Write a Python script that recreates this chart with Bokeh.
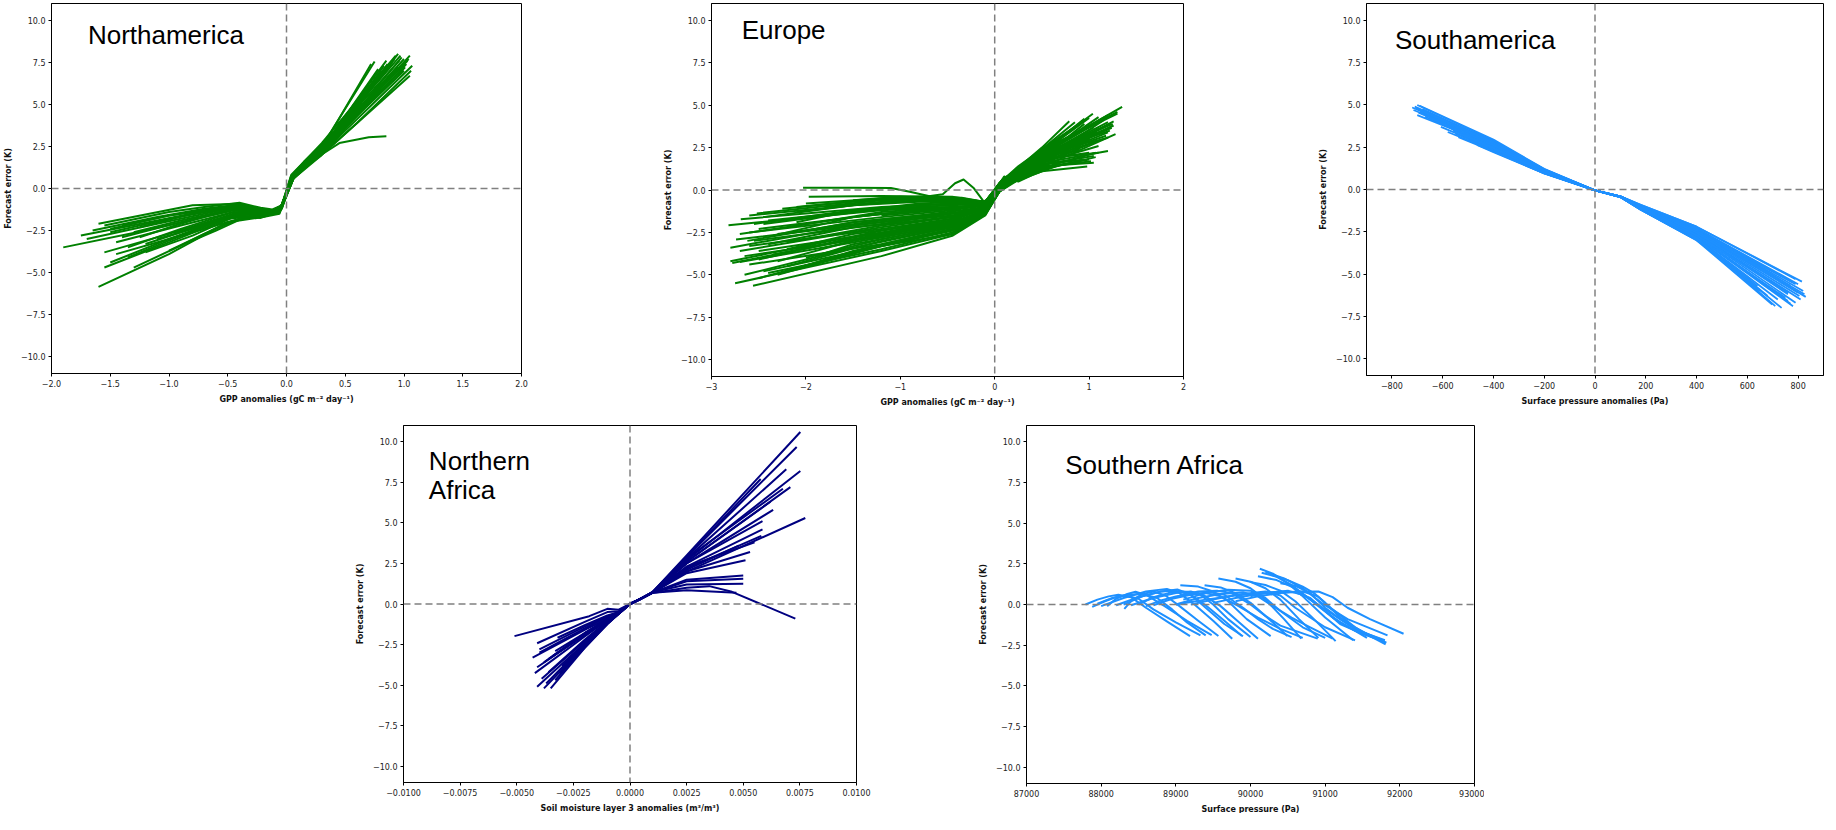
from bokeh.plotting import figure
from bokeh.models import Range1d, FixedTicker, Span, Label, Spacer
from bokeh.layouts import row, column
from bokeh.embed import file_html
from bokeh.resources import INLINE

# ---------------- data ----------------
Y_TICKS = [-10, -7.5, -5, -2.5, 0, 2.5, 5, 7.5, 10]
Y_TICK_LABELS = ["−10.0", "−7.5", "−5.0", "−2.5", "0.0", "2.5", "5.0", "7.5", "10.0"]

NA_X_TICKS = [-2.0, -1.5, -1.0, -0.5, 0.0, 0.5, 1.0, 1.5, 2.0]
NA_X_TICK_LABELS = ["−2.0", "−1.5", "−1.0", "−0.5", "0.0", "0.5", "1.0", "1.5", "2.0"]
EU_X_TICKS = [-3, -2, -1, 0, 1, 2]
EU_X_TICK_LABELS = ["−3", "−2", "−1", "0", "1", "2"]
SAM_X_TICKS = [-800, -600, -400, -200, 0, 200, 400, 600, 800]
SAM_X_TICK_LABELS = ["−800", "−600", "−400", "−200", "0", "200", "400", "600", "800"]
NAF_X_TICKS = [-0.01, -0.0075, -0.005, -0.0025, 0.0, 0.0025, 0.005, 0.0075, 0.01]
NAF_X_TICK_LABELS = ["−0.0100", "−0.0075", "−0.0050", "−0.0025", "0.0000", "0.0025", "0.0050", "0.0075", "0.0100"]
SAF_X_TICKS = [87000, 88000, 89000, 90000, 91000, 92000, 93000]
SAF_X_TICK_LABELS = ["87000", "88000", "89000", "90000", "91000", "92000", "93000"]

# Northamerica: GPP anomaly vs forecast error
NA_CURVES = [
    ([-1.90, -1.20, -0.45, -0.18, -0.06, 0.06, 0.30, 0.72], [-3.50, -2.50, -1.30, -1.50, -1.40, 0.70, 2.40, 7.40]),
    ([-1.75, -1.10, -0.45, -0.18, -0.06, 0.06, 0.30, 0.75], [-2.80, -1.90, -1.00, -1.40, -1.30, 0.80, 2.50, 7.55]),
    ([-1.60, -0.80, -0.40, -0.20, -0.06, 0.06, 0.30, 0.85], [-2.10, -1.00, -0.90, -1.30, -1.30, 0.80, 2.40, 7.60]),
    ([-1.60, -1.00, -0.50, -0.20, -0.06, 0.06, 0.30, 0.95], [-5.85, -3.90, -2.00, -1.60, -1.40, 0.60, 2.20, 8.00]),
    ([-1.55, -1.00, -0.50, -0.20, -0.06, 0.06, 0.30, 1.05], [-4.70, -3.20, -1.80, -1.60, -1.40, 0.70, 2.20, 7.90]),
    ([-1.50, -1.00, -0.45, -0.18, -0.06, 0.06, 0.30, 1.07], [-4.40, -3.00, -1.60, -1.50, -1.40, 0.70, 2.10, 7.30]),
    ([-1.55, -1.00, -0.45, -0.18, -0.06, 0.06, 0.30, 1.05], [-3.80, -2.70, -1.50, -1.60, -1.45, 0.60, 2.00, 6.70]),
    ([-1.50, -1.00, -0.40, -0.18, -0.06, 0.06, 0.30, 0.97], [-2.40, -1.60, -1.00, -1.40, -1.30, 0.80, 2.50, 7.90]),
    ([-1.45, -0.90, -0.45, -0.18, -0.06, 0.06, 0.30, 1.00], [-3.20, -2.20, -1.40, -1.50, -1.40, 0.70, 2.30, 7.70]),
    ([-1.30, -0.90, -0.50, -0.20, -0.06, 0.06, 0.30, 1.02], [-4.70, -3.40, -2.00, -1.70, -1.50, 0.60, 2.10, 7.40]),
    ([-1.35, -0.90, -0.45, -0.18, -0.06, 0.06, 0.30, 0.90], [-3.50, -2.40, -1.40, -1.50, -1.40, 0.70, 2.40, 7.50]),
    ([-1.40, -0.90, -0.40, -0.18, -0.06, 0.06, 0.25, 0.45, 0.70, 0.85], [-2.90, -2.00, -1.10, -1.40, -1.30, 0.70, 1.80, 2.70, 3.05, 3.10]),
    ([-1.30, -0.90, -0.45, -0.18, -0.06, 0.06, 0.30, 0.95], [-2.60, -1.90, -1.20, -1.40, -1.30, 0.80, 2.40, 7.20]),
    ([-1.20, -0.80, -0.45, -0.18, -0.06, 0.06, 0.30, 0.80], [-3.80, -2.80, -1.70, -1.60, -1.40, 0.70, 2.40, 6.90]),
    ([-1.25, -0.80, -0.40, -0.18, -0.06, 0.06, 0.30, 0.90], [-2.30, -1.50, -1.00, -1.30, -1.30, 0.80, 2.20, 6.50]),
    ([-1.50, -1.00, -0.45, -0.18, -0.06, 0.06, 0.30, 1.00], [-2.60, -1.80, -1.10, -1.40, -1.30, 0.70, 2.30, 7.00]),
    ([-1.00, -0.70, -0.40, -0.18, -0.06, 0.06, 0.30, 0.88], [-3.70, -2.70, -1.80, -1.60, -1.40, 0.60, 2.30, 7.30]),
    ([-1.10, -0.70, -0.40, -0.18, -0.06, 0.06, 0.30, 0.92], [-3.00, -2.20, -1.50, -1.50, -1.40, 0.70, 2.40, 7.70]),
    ([-0.80, -0.60, -0.35, -0.18, -0.06, 0.06, 0.30, 0.78], [-3.10, -2.50, -1.70, -1.60, -1.40, 0.60, 2.30, 7.10]),
    ([-1.70, -1.10, -0.50, -0.20, -0.06, 0.06, 0.30, 1.03], [-3.00, -2.10, -1.20, -1.40, -1.30, 0.70, 2.30, 7.60]),
    ([-1.45, -1.00, -0.60, -0.40, -0.22, -0.12, -0.04, 0.04, 0.15, 0.30, 0.60, 0.98], [-3.90, -3.00, -2.20, -1.80, -1.70, -1.50, -1.20, 0.50, 1.30, 2.10, 4.60, 7.80]),
    ([-1.65, -1.10, -0.70, -0.40, -0.22, -0.12, -0.04, 0.04, 0.15, 0.30, 0.60, 1.04], [-2.50, -1.70, -1.20, -0.95, -1.20, -1.30, -1.00, 0.70, 1.50, 2.60, 4.70, 7.70]),
    ([-1.20, -0.90, -0.60, -0.40, -0.22, -0.12, -0.04, 0.04, 0.15, 0.30, 0.60, 0.86], [-3.30, -2.60, -1.90, -1.40, -1.60, -1.40, -1.10, 0.60, 1.40, 2.30, 4.90, 7.40]),
    ([-1.35, -1.00, -0.60, -0.40, -0.22, -0.12, -0.04, 0.04, 0.15, 0.30, 0.60, 1.06], [-4.10, -3.10, -2.00, -1.60, -1.75, -1.50, -1.20, 0.50, 1.20, 2.00, 3.90, 7.00]),
    ([-1.55, -1.00, -0.70, -0.40, -0.22, -0.12, -0.04, 0.04, 0.15, 0.30, 0.60, 0.93], [-2.20, -1.40, -1.10, -0.85, -1.15, -1.25, -1.00, 0.80, 1.60, 2.70, 5.20, 7.90]),
    ([-0.95, -0.75, -0.55, -0.40, -0.22, -0.12, -0.04, 0.04, 0.15, 0.30, 0.60, 0.83], [-2.60, -2.20, -1.80, -1.50, -1.60, -1.45, -1.10, 0.60, 1.40, 2.40, 5.00, 7.30]),
    ([-1.25, -0.95, -0.65, -0.40, -0.22, -0.12, -0.04, 0.04, 0.15, 0.30, 0.60, 1.01], [-2.90, -2.20, -1.60, -1.20, -1.40, -1.35, -1.05, 0.70, 1.50, 2.50, 4.40, 7.20]),
    ([-1.40, -1.00, -0.70, -0.40, -0.22, -0.12, -0.04, 0.04, 0.15, 0.30, 0.60, 0.96], [-2.20, -1.60, -1.30, -1.00, -1.30, -1.30, -1.00, 0.75, 1.60, 2.60, 4.80, 7.60]),
]

# Europe: GPP anomaly vs forecast error
EU_CURVES = [
    ([-2.82, -1.2, -0.45, -0.1, 0.08, 0.5, 1.35], [-2.08, -1.2, -1.0, -0.9, 0.5, 2.2, 4.9]),
    ([-2.75, -1.2, -0.45, -0.1, 0.08, 0.5, 0.98], [-5.5, -3.6, -2.6, -1.4, 0.2, 1.1, 1.38]),
    ([-2.56, -1.2, -0.45, -0.1, 0.08, 0.5, 1.07], [-5.65, -3.9, -2.7, -1.5, 0.2, 1.2, 1.94]),
    ([-2.70, -1.2, -0.45, -0.1, 0.08, 0.5, 1.07], [-4.25, -2.8, -2.0, -1.2, 0.3, 1.3, 2.2]),
    ([-2.69, -1.2, -0.45, -0.1, 0.08, 0.5, 1.20], [-1.72, -1.0, -0.8, -0.8, 0.5, 1.8, 3.1]),
    ([-2.52, -1.2, -0.45, -0.1, 0.08, 0.5, 1.26], [-1.38, -0.6, -0.5, -0.7, 0.6, 2.0, 3.8]),
    ([-2.03, -1.5, -1.1, -0.9, -0.5, -0.2, -0.05, 0.1, 0.5, 1.24], [0.14, 0.13, 0.12, -0.1, -0.6, -0.9, -0.5, 0.7, 1.9, 3.66]),
    ([-1.97, -1.2, -0.45, -0.1, 0.08, 0.5, 1.04], [-0.4, -0.35, -0.4, -0.7, 0.6, 2.3, 4.5]),
    ([-2.74, -1.2, -0.45, -0.1, 0.08, 0.5, 0.79], [-2.92, -1.9, -1.5, -1.0, 0.5, 2.5, 4.05]),
    ([-2.60, -1.2, -0.45, -0.1, 0.08, 0.5, 1.00], [-3.3, -2.3, -1.7, -1.1, 0.4, 2.2, 4.25]),
    ([-2.60, -1.2, -0.45, -0.1, 0.08, 0.5, 1.26], [-4.4, -3.2, -2.3, -1.3, 0.3, 1.9, 4.05]),
    ([-2.50, -1.2, -0.45, -0.1, 0.08, 0.5, 1.10], [-3.6, -2.5, -1.8, -1.1, 0.4, 2.0, 4.3]),
    ([-2.40, -1.2, -0.45, -0.1, 0.08, 0.5, 1.15], [-4.9, -3.5, -2.5, -1.4, 0.2, 1.7, 4.1]),
    ([-2.30, -1.2, -0.45, -0.1, 0.08, 0.5, 0.95], [-5.0, -3.3, -2.4, -1.3, 0.3, 1.9, 3.9]),
    ([-2.50, -1.2, -0.45, -0.1, 0.08, 0.5, 1.20], [-2.3, -1.4, -1.1, -0.9, 0.5, 1.8, 3.4]),
    ([-2.45, -1.2, -0.45, -0.1, 0.08, 0.5, 1.00], [-2.0, -1.1, -0.9, -0.8, 0.5, 1.7, 3.0]),
    ([-2.30, -1.2, -0.45, -0.1, 0.08, 0.5, 0.90], [-2.6, -1.8, -1.4, -1.0, 0.4, 1.6, 2.4]),
    ([-2.20, -1.2, -0.45, -0.1, 0.08, 0.5, 1.10], [-3.1, -2.1, -1.6, -1.1, 0.4, 1.6, 2.6]),
    ([-2.10, -1.2, -0.45, -0.1, 0.08, 0.5, 0.95], [-1.3, -0.7, -0.6, -0.7, 0.6, 1.5, 1.8]),
    ([-2.00, -1.2, -0.45, -0.1, 0.08, 0.5, 0.85], [-0.8, -0.5, -0.5, -0.7, 0.6, 1.3, 1.6]),
    ([-2.60, -1.2, -0.45, -0.1, 0.08, 0.5, 1.05], [-2.5, -1.6, -1.2, -0.9, 0.5, 1.4, 1.6]),
    ([-2.65, -1.2, -0.45, -0.1, 0.08, 0.5, 0.90], [-3.9, -2.7, -1.9, -1.2, 0.4, 2.3, 3.5]),
    ([-2.35, -1.2, -0.45, -0.1, 0.08, 0.5, 1.15], [-3.8, -2.6, -1.9, -1.2, 0.4, 2.1, 3.7]),
    ([-2.20, -1.2, -0.45, -0.1, 0.08, 0.5, 1.20], [-4.5, -3.0, -2.2, -1.3, 0.3, 2.2, 4.4]),
    ([-2.00, -1.2, -0.45, -0.1, 0.08, 0.5, 0.70], [-4.0, -2.9, -2.1, -1.3, 0.3, 1.2, 1.5]),
    ([-1.80, -1.0, -0.55, -0.42, -0.33, -0.22, -0.1, 0.08, 0.5, 1.25], [-1.0, -0.6, -0.25, 0.4, 0.62, 0.1, -0.8, 0.5, 2.1, 3.9]),
    ([-1.50, -1.0, -0.45, -0.1, 0.08, 0.5, 1.20], [-0.6, -0.4, -0.5, -0.8, 0.5, 2.0, 4.0]),
    ([-2.10, -1.2, -0.45, -0.1, 0.08, 0.5, 1.22], [-1.0, -0.5, -0.6, -0.8, 0.5, 2.1, 3.5]),
    ([-2.80, -1.2, -0.45, -0.1, 0.08, 0.5, 1.00], [-4.2, -2.4, -1.7, -1.1, 0.4, 1.8, 2.2]),
    ([-2.45, -1.2, -0.45, -0.1, 0.08, 0.5, 1.05], [-4.8, -3.3, -2.6, -1.4, 0.2, 1.5, 2.0]),
    ([-2.20, -1.2, -0.45, -0.1, 0.08, 0.5, 0.95], [-2.2, -1.3, -1.0, -0.9, 0.5, 2.2, 4.2]),
    ([-2.55, -1.2, -0.45, -0.1, 0.08, 0.5, 1.18], [-3.0, -2.0, -1.4, -1.0, 0.4, 1.9, 3.2]),
    ([-1.80, -1.2, -0.45, -0.1, 0.08, 0.5, 1.05], [-3.4, -2.6, -2.0, -1.2, 0.3, 1.6, 2.8]),
    ([-2.70, -1.2, -0.45, -0.1, 0.08, 0.5, 1.30], [-3.6, -2.2, -1.6, -1.0, 0.5, 2.3, 4.6]),
    ([-2.40, -1.2, -0.45, -0.1, 0.08, 0.5, 0.85], [-1.8, -1.1, -1.0, -0.9, 0.5, 2.4, 4.0]),
    ([-2.78, -1.5, -0.8, -0.35, -0.1, 0.05, 0.25, 0.6, 1.22], [-4.3, -2.9, -2.3, -1.9, -1.3, 0.0, 0.9, 2.1, 3.9]),
    ([-2.62, -1.5, -0.8, -0.35, -0.1, 0.05, 0.25, 0.6, 1.15], [-3.0, -1.9, -1.5, -1.2, -1.0, 0.2, 1.1, 2.4, 4.2]),
    ([-2.50, -1.5, -0.8, -0.35, -0.1, 0.05, 0.25, 0.6, 1.00], [-4.1, -2.8, -2.2, -1.8, -1.3, 0.0, 0.8, 1.8, 2.9]),
    ([-2.35, -1.5, -0.8, -0.35, -0.1, 0.05, 0.25, 0.6, 1.20], [-2.7, -1.6, -1.2, -1.0, -0.9, 0.3, 1.2, 2.5, 4.4]),
    ([-2.20, -1.5, -0.8, -0.35, -0.1, 0.05, 0.25, 0.6, 0.92], [-3.5, -2.6, -2.1, -1.7, -1.2, 0.1, 0.9, 2.0, 2.9]),
    ([-2.10, -1.5, -0.8, -0.35, -0.1, 0.05, 0.25, 0.6, 1.10], [-1.9, -1.2, -0.9, -0.8, -0.8, 0.3, 1.1, 2.2, 3.6]),
    ([-2.65, -1.5, -0.8, -0.35, -0.1, 0.05, 0.25, 0.6, 1.28], [-5.0, -3.4, -2.6, -2.1, -1.4, -0.1, 0.7, 1.6, 3.3]),
    ([-2.40, -1.5, -0.8, -0.35, -0.1, 0.05, 0.25, 0.6, 1.05], [-3.2, -2.2, -1.8, -1.5, -1.1, 0.2, 1.0, 2.3, 3.7]),
    ([-2.00, -1.5, -0.8, -0.35, -0.1, 0.05, 0.25, 0.6, 0.98], [-2.4, -1.9, -1.5, -1.3, -1.0, 0.2, 1.0, 2.0, 3.3]),
    ([-1.70, -1.5, -0.8, -0.35, -0.1, 0.05, 0.25, 0.6, 1.12], [-1.4, -1.25, -0.8, -0.7, -0.8, 0.35, 1.3, 2.6, 4.1]),
    ([-2.55, -1.5, -0.8, -0.35, -0.1, 0.05, 0.25, 0.6, 1.18], [-2.0, -1.2, -0.9, -0.8, -0.85, 0.3, 1.2, 2.4, 4.3]),
    ([-2.30, -1.5, -0.8, -0.35, -0.1, 0.05, 0.25, 0.6, 1.25], [-4.2, -3.0, -2.4, -2.0, -1.35, 0.0, 0.8, 1.9, 3.8]),
    ([-2.80, -1.5, -0.8, -0.35, -0.1, 0.05, 0.25, 0.6, 1.08], [-3.4, -2.1, -1.6, -1.3, -1.05, 0.25, 1.1, 2.2, 3.4]),
    ([-2.45, -1.5, -0.8, -0.35, -0.1, 0.05, 0.25, 0.6, 0.88], [-1.6, -0.9, -0.7, -0.65, -0.75, 0.4, 1.3, 2.7, 3.8]),
    ([-2.15, -1.5, -0.8, -0.35, -0.1, 0.05, 0.25, 0.6, 1.02], [-4.7, -3.6, -2.7, -2.2, -1.45, -0.1, 0.6, 1.4, 1.7]),
    ([-2.70, -1.5, -0.8, -0.35, -0.1, 0.05, 0.25, 0.6, 1.15], [-2.6, -1.6, -1.2, -1.0, -0.9, 0.3, 1.15, 2.3, 3.0]),
    ([-2.50, -1.5, -0.8, -0.35, -0.1, 0.05, 0.25, 0.6, 1.20], [-5.2, -3.7, -2.8, -2.2, -1.45, -0.1, 0.7, 1.7, 2.3]),
    ([-1.90, -1.5, -0.8, -0.35, -0.1, 0.05, 0.25, 0.6, 1.10], [-3.9, -3.2, -2.5, -2.0, -1.35, 0.0, 0.8, 1.9, 2.2]),
    ([-2.60, -1.5, -0.8, -0.35, -0.1, 0.05, 0.25, 0.6, 1.30], [-1.5, -0.9, -0.6, -0.6, -0.7, 0.4, 1.3, 2.6, 4.5]),
    ([-2.25, -1.5, -0.8, -0.35, -0.1, 0.05, 0.25, 0.6, 0.95], [-1.1, -0.7, -0.4, -0.45, -0.7, 0.4, 1.4, 2.8, 4.1]),
    ([-1.20, -0.6, -0.2, -0.05, 0.1, 0.25, 0.4, 0.7, 1.00], [-1.5, -1.2, -1.0, -0.5, 0.8, 0.5, 0.9, 1.5, 1.8]),
]

# Southamerica: surface pressure anomaly vs forecast error
SAM_CURVES = [
    ([-710, -400, -200, 0, 100, 180, 400, 790], [4.90, 2.85, 1.20, -0.05, -0.40, -0.90, -2.20, -5.30]),
    ([-700, -400, -200, 0, 100, 180, 400, 800], [5.00, 2.90, 1.20, -0.05, -0.40, -0.95, -2.30, -5.60]),
    ([-680, -400, -200, 0, 100, 180, 400, 820], [4.75, 2.80, 1.15, -0.05, -0.40, -1.00, -2.40, -6.00]),
    ([-690, -400, -200, 0, 100, 180, 400, 830], [4.60, 2.70, 1.10, -0.05, -0.42, -1.00, -2.50, -6.35]),
    ([-700, -400, -200, 0, 100, 180, 400, 810], [4.40, 2.60, 1.10, -0.05, -0.42, -1.05, -2.60, -6.50]),
    ([-640, -400, -200, 0, 100, 180, 400, 780], [4.20, 2.60, 1.05, -0.05, -0.43, -1.10, -2.80, -6.90]),
    ([-607, -400, -200, 0, 100, 180, 400, 735], [3.70, 2.40, 1.00, -0.05, -0.44, -1.15, -2.90, -7.00]),
    ([-538, -400, -200, 0, 100, 180, 400, 698], [3.10, 2.25, 0.95, -0.05, -0.45, -1.20, -3.00, -6.80]),
    ([-465, -400, -200, 0, 100, 180, 400, 613], [2.63, 2.20, 0.95, -0.05, -0.45, -1.20, -3.00, -5.30]),
    ([-600, -400, -200, 0, 100, 180, 400, 640], [3.90, 2.55, 1.05, -0.05, -0.43, -1.10, -2.90, -5.70]),
    ([-650, -400, -200, 0, 100, 180, 400, 760], [4.50, 2.75, 1.15, -0.05, -0.41, -1.00, -2.60, -6.20]),
    ([-560, -400, -200, 0, 100, 180, 400, 700], [3.60, 2.50, 1.05, -0.05, -0.42, -1.05, -2.70, -6.00]),
    ([-500, -400, -200, 0, 100, 180, 400, 790], [3.00, 2.35, 1.00, -0.05, -0.42, -1.00, -2.45, -5.60]),
    ([-720, -400, -200, 0, 100, 180, 400, 780], [4.85, 2.80, 1.15, -0.05, -0.41, -0.98, -2.35, -5.50]),
    ([-660, -400, -200, 0, 100, 180, 400, 800], [4.40, 2.65, 1.10, -0.05, -0.42, -1.02, -2.50, -6.10]),
    ([-620, -400, -200, 0, 100, 180, 400, 760], [4.00, 2.45, 1.00, -0.05, -0.44, -1.10, -2.75, -6.60]),
    ([-580, -400, -200, 0, 100, 180, 400, 720], [3.40, 2.30, 0.95, -0.05, -0.45, -1.15, -2.85, -6.50]),
    ([-690, -400, -200, 0, 100, 180, 400, 815], [4.95, 2.95, 1.22, -0.05, -0.40, -0.90, -2.20, -5.45]),
    ([-705, -400, -200, 0, 100, 180, 400, 770], [4.80, 2.80, 1.18, -0.05, -0.40, -0.95, -2.30, -5.70]),
    ([-670, -400, -200, 0, 100, 180, 400, 750], [4.30, 2.55, 1.05, -0.05, -0.43, -1.08, -2.80, -6.40]),
    ([-630, -400, -200, 0, 100, 180, 400, 790], [4.10, 2.50, 1.05, -0.05, -0.42, -1.05, -2.65, -6.70]),
    ([-590, -400, -200, 0, 100, 180, 400, 680], [3.80, 2.45, 1.00, -0.05, -0.44, -1.12, -2.85, -6.30]),
    ([-550, -400, -200, 0, 100, 180, 400, 650], [3.30, 2.35, 1.00, -0.05, -0.45, -1.18, -2.95, -6.00]),
    ([-520, -400, -200, 0, 100, 180, 400, 620], [3.20, 2.40, 1.02, -0.05, -0.44, -1.15, -2.90, -5.60]),
    ([-480, -400, -200, 0, 100, 180, 400, 600], [2.80, 2.25, 0.97, -0.05, -0.45, -1.20, -2.95, -5.20]),
    ([-715, -400, -200, 0, 100, 180, 400, 825], [4.70, 2.75, 1.15, -0.05, -0.41, -1.00, -2.45, -6.20]),
    ([-695, -400, -200, 0, 100, 180, 400, 805], [4.55, 2.65, 1.10, -0.05, -0.42, -1.02, -2.55, -6.30]),
    ([-650, -400, -200, 0, 100, 180, 400, 770], [4.25, 2.60, 1.08, -0.05, -0.43, -1.06, -2.70, -6.75]),
    ([-610, -400, -200, 0, 100, 180, 400, 710], [3.95, 2.50, 1.03, -0.05, -0.44, -1.12, -2.85, -6.90]),
    ([-560, -400, -200, 0, 100, 180, 400, 760], [3.50, 2.45, 1.02, -0.05, -0.43, -1.08, -2.70, -6.10]),
]

# Northern Africa: soil moisture layer 3 anomaly vs forecast error
NAF_CURVES = [
    ([-0.0051, -0.0018, -0.0010, -0.0005, 0, 0.0005, 0.0010, 0.0025, 0.00752], [-1.98, -0.75, -0.30, -0.35, 0, 0.35, 0.75, 3.0, 10.6]),
    ([-0.0041, -0.0020, -0.0010, -0.0005, 0, 0.0005, 0.0010, 0.0025, 0.00736], [-2.42, -1.10, -0.50, -0.45, 0, 0.35, 0.75, 2.9, 9.68]),
    ([-0.0032, -0.0020, -0.0010, -0.0005, 0, 0.0005, 0.0010, 0.0025, 0.00690], [-2.08, -1.30, -0.70, -0.50, 0, 0.35, 0.72, 2.8, 8.3]),
    ([-0.0043, -0.0020, -0.0010, -0.0005, 0, 0.0005, 0.0010, 0.0025, 0.00752], [-3.30, -1.60, -0.90, -0.55, 0, 0.35, 0.72, 2.7, 8.2]),
    ([-0.0042, -0.0020, -0.0010, -0.0005, 0, 0.0005, 0.0010, 0.0025, 0.00675], [-4.26, -2.00, -1.00, -0.55, 0, 0.35, 0.72, 2.8, 7.1]),
    ([-0.0041, -0.0020, -0.0010, -0.0005, 0, 0.0005, 0.0010, 0.0025, 0.00708], [-5.10, -2.40, -1.10, -0.60, 0, 0.33, 0.70, 2.6, 7.2]),
    ([-0.0038, -0.0020, -0.0010, -0.0005, 0, 0.0005, 0.0010, 0.0025, 0.00632], [-5.20, -2.60, -1.20, -0.60, 0, 0.33, 0.70, 2.5, 5.8]),
    ([-0.0035, -0.0020, -0.0010, -0.0005, 0, 0.0005, 0.0010, 0.0025, 0.00774], [-5.20, -2.70, -1.20, -0.60, 0, 0.33, 0.70, 2.0, 5.3]),
    ([-0.0040, -0.0020, -0.0010, -0.0005, 0, 0.0005, 0.0010, 0.0025, 0.00585], [-2.80, -1.40, -0.75, -0.50, 0, 0.35, 0.72, 2.5, 5.1]),
    ([-0.0033, -0.0020, -0.0010, -0.0005, 0, 0.0005, 0.0010, 0.0025, 0.00585], [-4.70, -2.60, -1.20, -0.60, 0, 0.33, 0.70, 2.3, 4.6]),
    ([-0.0038, -0.0020, -0.0010, -0.0005, 0, 0.0005, 0.0010, 0.0025, 0.00530], [-3.60, -1.80, -0.95, -0.55, 0, 0.35, 0.72, 2.0, 3.2]),
    ([-0.0036, -0.0020, -0.0010, -0.0005, 0, 0.0005, 0.0010, 0.0025, 0.00510], [-4.20, -2.20, -1.05, -0.55, 0, 0.34, 0.70, 1.9, 2.7]),
    ([-0.0039, -0.0020, -0.0010, -0.0005, 0, 0.0005, 0.0010, 0.0025, 0.00500], [-4.60, -2.30, -1.10, -0.60, 0, 0.34, 0.70, 1.5, 1.75]),
    ([-0.0030, -0.0020, -0.0010, -0.0005, 0, 0.0005, 0.0010, 0.0025, 0.00500], [-3.80, -2.50, -1.20, -0.60, 0, 0.33, 0.70, 1.4, 1.55]),
    ([-0.0034, -0.0020, -0.0010, -0.0005, 0, 0.0005, 0.0010, 0.0025, 0.00500], [-3.20, -1.90, -1.00, -0.55, 0, 0.35, 0.72, 1.2, 1.25]),
    ([-0.0040, -0.0020, -0.0010, -0.0005, 0, 0.0005, 0.0010, 0.0025, 0.00470], [-3.00, -1.50, -0.80, -0.50, 0, 0.36, 0.70, 0.85, 0.7]),
    ([-0.0037, -0.0020, -0.0010, -0.0005, 0, 0.0005, 0.0010, 0.0025, 0.0035, 0.0045, 0.0073], [-4.90, -2.50, -1.20, -0.60, 0, 0.33, 0.68, 1.0, 1.1, 0.75, -0.9]),
    ([-0.0028, -0.0020, -0.0010, -0.0005, 0, 0.0005, 0.0010, 0.0025, 0.00577], [-3.60, -2.50, -1.20, -0.60, 0, 0.34, 0.72, 2.9, 7.7]),
    ([-0.0041, -0.0020, -0.0010, -0.0005, 0, 0.0005, 0.0010, 0.0025, 0.00550], [-3.90, -1.90, -0.95, -0.55, 0, 0.35, 0.72, 2.3, 3.8]),
    ([-0.0033, -0.0020, -0.0010, -0.0005, 0, 0.0005, 0.0010, 0.0025, 0.00580], [-2.90, -1.80, -0.95, -0.55, 0, 0.35, 0.72, 2.2, 4.2]),
    ([-0.0036, -0.0020, -0.0010, -0.0005, 0, 0.0005, 0.0010, 0.0025, 0.00620], [-3.40, -1.80, -0.95, -0.55, 0, 0.35, 0.72, 2.6, 6.3]),
    ([-0.0031, -0.0020, -0.0010, -0.0005, 0, 0.0005, 0.0010, 0.0025, 0.00480], [-4.30, -2.70, -1.25, -0.60, 0, 0.33, 0.70, 2.1, 3.6]),
]

# Southern Africa: surface pressure vs forecast error
SAF_CURVES = [
    ([87790, 87950, 88100, 88230, 88400, 88600, 88900, 89190], [0.00, 0.30, 0.50, 0.60, 0.45, -0.20, -1.10, -1.94]),
    ([87880, 88050, 88200, 88320, 88500, 88700, 89000, 89330], [-0.15, 0.20, 0.45, 0.55, 0.35, -0.30, -1.10, -1.90]),
    ([88080, 88200, 88350, 88460, 88620, 88850, 89150, 89480], [-0.10, 0.35, 0.65, 0.78, 0.55, -0.10, -1.00, -1.88]),
    ([88310, 88420, 88560, 88700, 88860, 89050, 89300, 89570], [-0.27, 0.30, 0.65, 0.80, 0.55, -0.10, -1.00, -1.94]),
    ([88000, 88300, 88600, 88880, 89050, 89250, 89500, 89755], [-0.10, 0.40, 0.80, 0.96, 0.70, 0.00, -1.00, -2.10]),
    ([88200, 88500, 88800, 89020, 89180, 89400, 89650, 89885], [-0.05, 0.45, 0.80, 0.92, 0.65, -0.05, -1.00, -1.94]),
    ([88400, 88700, 89000, 89200, 89380, 89600, 89850, 90100], [-0.05, 0.40, 0.70, 0.80, 0.55, -0.10, -1.10, -2.10]),
    ([89060, 89300, 89500, 89700, 89950, 90270], [1.19, 1.10, 0.80, 0.20, -0.90, -1.94]),
    ([89385, 89600, 89800, 90000, 90250, 90495], [1.19, 1.05, 0.70, 0.10, -0.90, -1.94]),
    ([89570, 89800, 90000, 90200, 90450, 90680], [1.60, 1.40, 1.00, 0.30, -0.90, -2.10]),
    ([89800, 90000, 90200, 90400, 90650, 90910], [1.60, 1.40, 1.00, 0.30, -0.90, -2.05]),
    ([89990, 90200, 90400, 90600, 90850, 91140], [1.39, 1.20, 0.85, 0.20, -0.90, -2.25]),
    ([90125, 90300, 90500, 90700, 91000, 91375], [2.20, 1.90, 1.30, 0.50, -0.80, -2.20]),
    ([90150, 90350, 90550, 90800, 91100, 91560], [1.95, 1.70, 1.20, 0.30, -0.80, -2.05]),
    ([90100, 90350, 90600, 90900, 91300, 91810], [1.74, 1.50, 1.00, 0.00, -1.20, -2.45]),
    ([90200, 90450, 90700, 90950, 91300, 91835], [2.00, 1.60, 1.00, 0.10, -0.90, -1.90]),
    ([89000, 89400, 89800, 90200, 90600, 90910, 91100, 91300, 91600, 92050], [0.00, 0.30, 0.55, 0.70, 0.78, 0.80, 0.45, -0.20, -0.90, -1.80]),
    ([88600, 88800, 89000, 89200, 89400, 89600, 89800, 90100, 90400, 90700], [-0.10, 0.25, 0.50, 0.65, 0.70, 0.50, 0.00, -0.80, -1.50, -2.05]),
    ([89000, 89300, 89600, 89900, 90100, 90300, 90550, 90800, 91100], [0.00, 0.40, 0.65, 0.75, 0.50, -0.10, -0.80, -1.40, -2.10]),
    ([89200, 89500, 89800, 90200, 90400, 90600, 90800, 91000, 91400], [0.00, 0.30, 0.60, 0.80, 0.55, -0.20, -0.80, -1.40, -2.20]),
    ([89500, 89800, 90100, 90500, 90700, 90900, 91200, 91500, 91800], [0.10, 0.40, 0.65, 0.85, 0.60, 0.00, -1.20, -1.80, -2.30]),
    ([89800, 90100, 90400, 90700, 90900, 91100, 91400, 91600, 91820], [0.20, 0.50, 0.70, 0.80, 0.50, -0.30, -1.40, -1.90, -2.35]),
    ([88700, 88950, 89200, 89450, 89650, 89900, 90100, 90300, 90550], [-0.05, 0.35, 0.60, 0.75, 0.60, -0.20, -0.90, -1.50, -2.00]),
    ([88900, 89100, 89300, 89550, 89750, 90000, 90200, 90400, 90900], [0.30, 0.60, 0.80, 0.85, 0.70, 0.00, -0.70, -1.30, -2.10]),
    ([88500, 88700, 88900, 89100, 89300, 89500, 89700, 90000], [0.00, 0.45, 0.70, 0.80, 0.70, 0.00, -0.90, -2.00]),
    ([90400, 90600, 90800, 91000, 91200, 91400, 91750], [1.30, 1.15, 0.70, -0.20, -0.90, -1.50, -2.15]),
    ([90000, 90200, 90400, 90600, 90800, 91000, 91200, 91400, 91800], [0.50, 0.70, 0.80, 0.75, 0.40, -0.40, -1.10, -1.60, -2.30]),
    ([88300, 88550, 88800, 89000, 89200, 89400, 89650, 89900], [0.00, 0.50, 0.80, 0.85, 0.60, -0.20, -1.20, -1.95]),
    ([89100, 89400, 89700, 90000, 90200, 90400, 90700, 91000], [0.30, 0.70, 0.90, 0.85, 0.40, -0.40, -1.40, -2.05]),
    ([87950, 88150, 88350, 88550, 88750, 88950, 89150, 89400], [0.05, 0.40, 0.60, 0.65, 0.40, -0.30, -1.10, -1.90]),
    ([90300, 90500, 90700, 90850, 91000, 91200, 91500, 91800], [1.80, 1.50, 1.10, 0.70, 0.10, -0.80, -1.70, -2.20]),
]

ZERO = 0

GREEN = "#008000"
NAVY = "#000080"
DODGER = "#1E90FF"


def make_panel(x_range, xticks, xlabels, xlabel, curves, color, lw, titles,
               fw, fh, bl, br, bt, bb):
    p = figure(x_range=Range1d(*x_range), y_range=Range1d(-11, 11),
               frame_width=fw, frame_height=fh,
               min_border_left=bl, min_border_right=br, min_border_top=bt, min_border_bottom=bb,
               output_backend="svg", toolbar_location=None,
               background_fill_color="white", border_fill_color="white")
    p.grid.visible = False
    p.outline_line_color = "black"
    p.outline_line_width = 1
    p.outline_line_alpha = 1

    p.xaxis.ticker = FixedTicker(ticks=xticks)
    p.xaxis.major_label_overrides = dict(zip(xticks, xlabels))
    p.yaxis.ticker = FixedTicker(ticks=Y_TICKS)
    p.yaxis.major_label_overrides = dict(zip(Y_TICKS, Y_TICK_LABELS))
    p.xaxis.axis_label = xlabel
    p.yaxis.axis_label = "Forecast error (K)"
    for ax in (p.xaxis, p.yaxis):
        ax.axis_line_color = "black"
        ax.axis_line_width = 1
        ax.major_tick_line_color = "black"
        ax.major_tick_out = 3
        ax.major_tick_in = 0
        ax.minor_tick_out = 0
        ax.minor_tick_in = 0
        ax.major_label_standoff = 3
        ax.major_label_text_font = "DejaVu Sans"
        ax.major_label_text_font_size = "8px"
        ax.major_label_text_color = "#222222"
        ax.axis_label_text_font = "DejaVu Sans"
        ax.axis_label_text_font_size = "8px"
        ax.axis_label_text_font_style = "bold"
        ax.axis_label_text_color = "#111111"
        ax.axis_label_standoff = 5

    p.multi_line(xs=[c[0] for c in curves], ys=[c[1] for c in curves],
                 line_color=color, line_width=lw, line_join="round")

    p.add_layout(Span(location=ZERO, dimension="width", line_color="#808080",
                      line_width=1.5, line_dash="7 4"))
    p.add_layout(Span(location=ZERO, dimension="height", line_color="#808080",
                      line_width=1.5, line_dash="7 4"))

    for (tx, ty, txt) in titles:
        p.add_layout(Label(x=tx, y=ty, text=txt, text_font="Liberation Sans",
                           text_font_size="26px", text_baseline="middle",
                           text_align="left", text_color="black"))
    return p


p1 = make_panel((-2, 2), NA_X_TICKS, NA_X_TICK_LABELS, "GPP anomalies (gC m⁻² day⁻¹)",
                NA_CURVES, GREEN, 2, [(-1.69, 9.1, "Northamerica")],
                470, 370, 49, 139, 0, 48)
p2 = make_panel((-3, 2), EU_X_TICKS, EU_X_TICK_LABELS, "GPP anomalies (gC m⁻² day⁻¹)",
                EU_CURVES, GREEN, 2, [(-2.68, 9.45, "Europe")],
                472, 373, 49, 132, 3, 42)
p3 = make_panel((-900, 900), SAM_X_TICKS, SAM_X_TICK_LABELS, "Surface pressure anomalies (Pa)",
                SAM_CURVES, DODGER, 1.8, [(-788, 8.85, "Southamerica")],
                457, 372, 49, 2, 1, 45)
p4 = make_panel((-0.01, 0.01), NAF_X_TICKS, NAF_X_TICK_LABELS, "Soil moisture layer 3 anomalies (m³/m³)",
                NAF_CURVES, NAVY, 2, [(-0.00888, 8.83, "Northern"), (-0.00888, 7.0, "Africa")],
                453, 357, 49, 119, 7, 31)
p5 = make_panel((87000, 93000), SAF_X_TICKS, SAF_X_TICK_LABELS, "Surface pressure (Pa)",
                SAF_CURVES, DODGER, 2, [(87518, 8.6, "Southern Africa")],
                448, 358, 49, 10, 4, 33)

layout = column(row(p1, p2, p3), row(Spacer(width=352, height=10), p4, p5))

open("out.html", "w").write(file_html(layout, INLINE))
